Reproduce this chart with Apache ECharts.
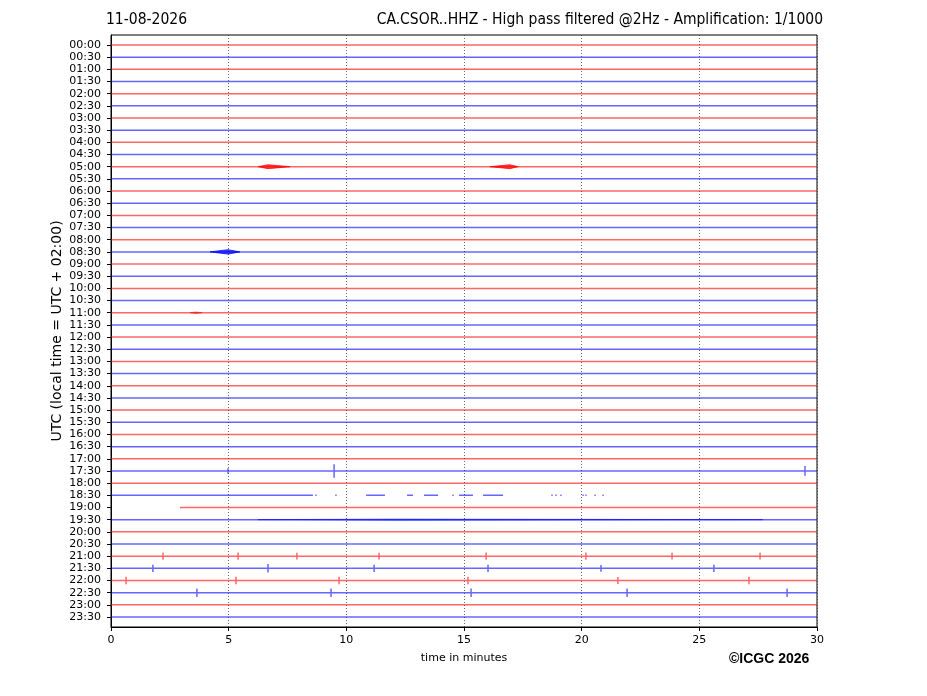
<!DOCTYPE html>
<html>
<head>
<meta charset="utf-8">
<title>CA.CSOR..HHZ helicorder</title>
<script src="https://cdn.jsdelivr.net/npm/echarts@6/dist/echarts.min.js"></script>
<style>
  html, body { margin: 0; padding: 0; background: #fff; }
  #chart { width: 927px; height: 696px; }
</style>
</head>
<body>
<div id="chart"></div>
<script>
// one trace per half hour, 00:00 at the top
var rowLabels = [];
for (var h = 0; h < 24; h++) {
  var hh = (h < 10 ? '0' : '') + h;
  rowLabels.push(hh + ':00', hh + ':30');
}
var minuteTicks = [0, 5, 10, 15, 20, 25, 30];

// recorded stretches of a trace (minutes), rows not listed run 0-30
var gaps = {
  37: [[0, 8.58], [8.68, 8.74], [9.53, 9.59], [10.84, 11.64], [12.58, 12.83], [13.30, 13.90],
       [14.50, 14.56], [14.79, 15.38], [15.81, 16.66], [18.71, 18.77], [18.88, 18.94],
       [19.09, 19.15], [20.03, 20.09], [20.15, 20.21], [20.54, 20.60], [20.88, 20.94]],
  38: [[2.93, 30]]
};

// single spikes: [row, minute, half amplitude in rows]
var spikes = [
  [10, 3.05, 0.05], [10, 13.7, 0.05],
  [21, 10.33, 0.08], [21, 23.5, 0.06],
  [22, 11.0, 0.1],
  [28, 12.07, 0.08],
  [30, 26.56, 0.1],
  [34, 20.0, 0.15], [34, 21.3, 0.06], [34, 23.2, 0.06],
  [35, 0.98, 0.15], [35, 4.97, 0.22], [35, 6.59, 0.14], [35, 9.48, 0.55], [35, 10.62, 0.1],
  [35, 11.56, 0.12], [35, 12.37, 0.12], [35, 13.0, 0.08], [35, 14.24, 0.1], [35, 14.79, 0.12],
  [35, 15.55, 0.12], [35, 17.29, 0.1], [35, 17.89, 0.1], [35, 23.58, 0.12], [35, 24.65, 0.1],
  [35, 29.49, 0.4],
  [36, 0.30, 0.1], [36, 1.66, 0.1], [36, 4.29, 0.08], [36, 15.3, 0.06],
  [40, 1.23, 0.08], [40, 5.0, 0.06],
  [42, 2.21, 0.3], [42, 5.40, 0.3], [42, 7.90, 0.28], [42, 11.39, 0.28], [42, 14.70, 0.12],
  [42, 15.94, 0.3], [42, 20.18, 0.3], [42, 23.84, 0.28], [42, 27.58, 0.28],
  [43, 1.78, 0.3], [43, 6.67, 0.35], [43, 11.18, 0.3], [43, 16.02, 0.3], [43, 20.82, 0.28],
  [43, 25.62, 0.3],
  [44, 0.64, 0.3], [44, 5.31, 0.3], [44, 9.69, 0.3], [44, 10.96, 0.1], [44, 11.73, 0.1],
  [44, 15.17, 0.3], [44, 21.54, 0.28], [44, 27.11, 0.3],
  [45, 3.65, 0.35], [45, 9.35, 0.35], [45, 15.30, 0.35], [45, 21.93, 0.35], [45, 28.73, 0.35]
];

// short wave trains: [row, start, peak, end, half amplitude]
var bursts = [
  [10, 6.25, 6.67, 7.61, 0.16],
  [10, 16.1, 16.95, 17.3, 0.16],
  [17, 4.21, 4.97, 5.48, 0.18],
  [22, 3.36, 3.6, 3.87, 0.06],
  [39, 6.25, 12.0, 27.7, 0.05]
];

function rowColor(i, a) {
  return i % 2 === 0 ? 'rgba(255,0,0,' + a + ')' : 'rgba(0,0,255,' + a + ')';
}

var series = [];
rowLabels.forEach(function (lab, i) {
  var segs = gaps[i] || [[0, 30]];
  segs.forEach(function (seg) {
    var pts = [[seg[0], i]];
    spikes.filter(function (s) { return s[0] === i && s[1] >= seg[0] && s[1] <= seg[1]; })
      .sort(function (a, b) { return a[1] - b[1]; })
      .forEach(function (s) {
        pts.push([s[1], i], [s[1], i - s[2]], [s[1], i + s[2]], [s[1], i]);
      });
    pts.push([seg[1], i]);
    series.push({
      type: 'line', data: pts, symbol: 'none', silent: true,
      lineStyle: { color: rowColor(i, 0.6), width: 1.5 }
    });
  });
});

series.push({
  type: 'custom', silent: true,
  data: bursts.map(function (b) { return [b[1], b[2], b[3], b[0], b[4]]; }),
  encode: { x: [0, 1, 2], y: [3] },
  renderItem: function (params, api) {
    var s = api.value(0), p = api.value(1), e = api.value(2), r = api.value(3), a = api.value(4);
    var c = rowColor(r, a < 0.1 ? 0.45 : 0.75);
    return {
      type: 'polygon',
      shape: { points: [api.coord([s, r]), api.coord([p, r - a]), api.coord([e, r]), api.coord([p, r + a])] },
      style: { fill: c, stroke: c, lineWidth: 1 }
    };
  }
});

var myChart = echarts.init(document.getElementById('chart'));
var titleFont = { fontFamily: 'DejaVu Sans Condensed, DejaVu Sans', fontSize: 15.5, fontWeight: 'normal', color: '#000' };
var option = {
  animation: false,
  backgroundColor: '#fff',
  textStyle: { fontFamily: 'DejaVu Sans' },
  title: [{
    text: '11-08-2026', left: 106, top: 12, padding: 0, textStyle: titleFont
  }, {
    text: 'CA.CSOR..HHZ - High pass filtered @2Hz - Amplification: 1/1000', right: 104, top: 12, padding: 0,
    textStyle: titleFont
  }],
  grid: {
    left: 111, right: 110, top: 35, bottom: 69,
    show: true, borderColor: '#000', borderWidth: 1
  },
  xAxis: {
    type: 'value', min: 0, max: 30, interval: 5,
    name: 'time in minutes', nameLocation: 'middle', nameGap: 26,
    nameTextStyle: { fontSize: 11, color: '#000' },
    axisLine: { show: true, onZero: false, lineStyle: { color: '#000', width: 1 } },
    axisTick: { show: true, length: 4, lineStyle: { color: '#000' } },
    axisLabel: { fontSize: 11, color: '#000', margin: 8,
      formatter: function (v) { return minuteTicks.indexOf(v) >= 0 ? String(v) : ''; } },
    splitLine: { show: true, lineStyle: { color: '#444', width: 0.8, type: [1, 2] } }
  },
  yAxis: {
    type: 'value', inverse: true, min: -0.82, max: 47.82,
    axisLine: { show: true, onZero: false, lineStyle: { color: '#000', width: 1 } },
    axisTick: { show: true, length: 4, lineStyle: { color: '#000' },
      customValues: rowLabels.map(function (l, i) { return i; }) },
    axisLabel: { fontSize: 11, color: '#000', margin: 10,
      customValues: rowLabels.map(function (l, i) { return i; }),
      formatter: function (v) { return rowLabels[Math.round(v)] || ''; } },
    splitLine: { show: false }
  },
  graphic: [{
    type: 'text', x: 57, y: 331, rotation: Math.PI / 2,
    style: { text: 'UTC (local time = UTC + 02:00)', fontFamily: 'DejaVu Sans', fontSize: 14, fill: '#000',
      align: 'center', verticalAlign: 'middle' }
  }, {
    type: 'text', left: 729, top: 652,
    style: { text: '\u00a9ICGC 2026', fontFamily: 'Liberation Sans', fontWeight: 'bold', fontSize: 14, fill: '#000' }
  }],
  series: series
};
myChart.setOption(option);
</script>
</body>
</html>
